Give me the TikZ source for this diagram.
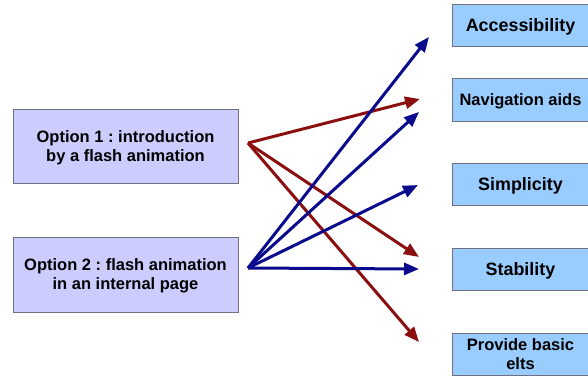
\documentclass[tikz,border=0pt]{standalone}
\usepackage{fontspec}
\setmainfont{Liberation Sans}
\usetikzlibrary{arrows.meta}
\definecolor{optfill}{HTML}{CCCCFF}
\definecolor{critfill}{HTML}{99CCFF}
\definecolor{boxline}{HTML}{707080}
\definecolor{redarr}{HTML}{8B0F0F}
\definecolor{bluearr}{HTML}{0A0A8C}
\frenchspacing
\begin{document}
\begin{tikzpicture}[x=1pt,y=-1pt,
  optbox/.style={draw=boxline,line width=0.8pt,fill=optfill,minimum width=225pt,minimum height=74pt,inner sep=0pt,text depth=0pt,align=center,font=\fontsize{16.5}{19}\selectfont\bfseries},
  critbox/.style={draw=boxline,line width=0.8pt,fill=critfill,minimum width=137pt,minimum height=42pt,inner sep=0pt,text depth=0pt,align=center,font=\fontsize{16.5}{18.5}\selectfont\bfseries},
  bigcrit/.style={critbox,font=\fontsize{17.9}{20}\selectfont\bfseries},
  redline/.style={draw=redarr,line width=3pt,-{Triangle[length=15pt,width=12pt]}},
  blueline/.style={draw=bluearr,line width=3pt,-{Triangle[length=15pt,width=12pt]}}]
\useasboundingbox (0,0) rectangle (588,376);
\begin{scope}
\clip (0,0) rectangle (588,376);
\node[optbox] (opt1) at (125.5,146.5) {Option 1 : introduction\\by a flash animation};
\node[optbox,minimum height=75pt] (opt2) at (125.5,274.5) {Option 2 : flash animation\\in an internal page};
\node[bigcrit] (acc) at (520.5,25) {Accessibility};
\node[critbox,minimum height=43pt] (nav) at (520.5,99.5) {Navigation aids};
\node[bigcrit] (sim) at (520.5,184) {Simplicity};
\node[bigcrit] (sta) at (520.5,269) {Stability};
\node[critbox] (pro) at (520.5,354) {Provide basic\\elts};
\end{scope}
\coordinate (o1) at (248,143);
\coordinate (o2) at (248,268);
\coordinate (tnav1) at (420,99);
\coordinate (tsta1) at (419,257);
\coordinate (tpro1) at (419,342);
\coordinate (tacc2) at (429,37);
\coordinate (tnav2) at (419,112);
\coordinate (tsim2) at (418,185);
\coordinate (tsta2) at (419,269);
\draw[redline] (o1) -- (tnav1);
\draw[redline] (o1) -- (tsta1);
\draw[redline] (o1) -- (tpro1);
\draw[blueline] (o2) -- (tacc2);
\draw[blueline] (o2) -- (tnav2);
\draw[blueline] (o2) -- (tsim2);
\draw[blueline] (o2) -- (tsta2);
\end{tikzpicture}
\end{document}
